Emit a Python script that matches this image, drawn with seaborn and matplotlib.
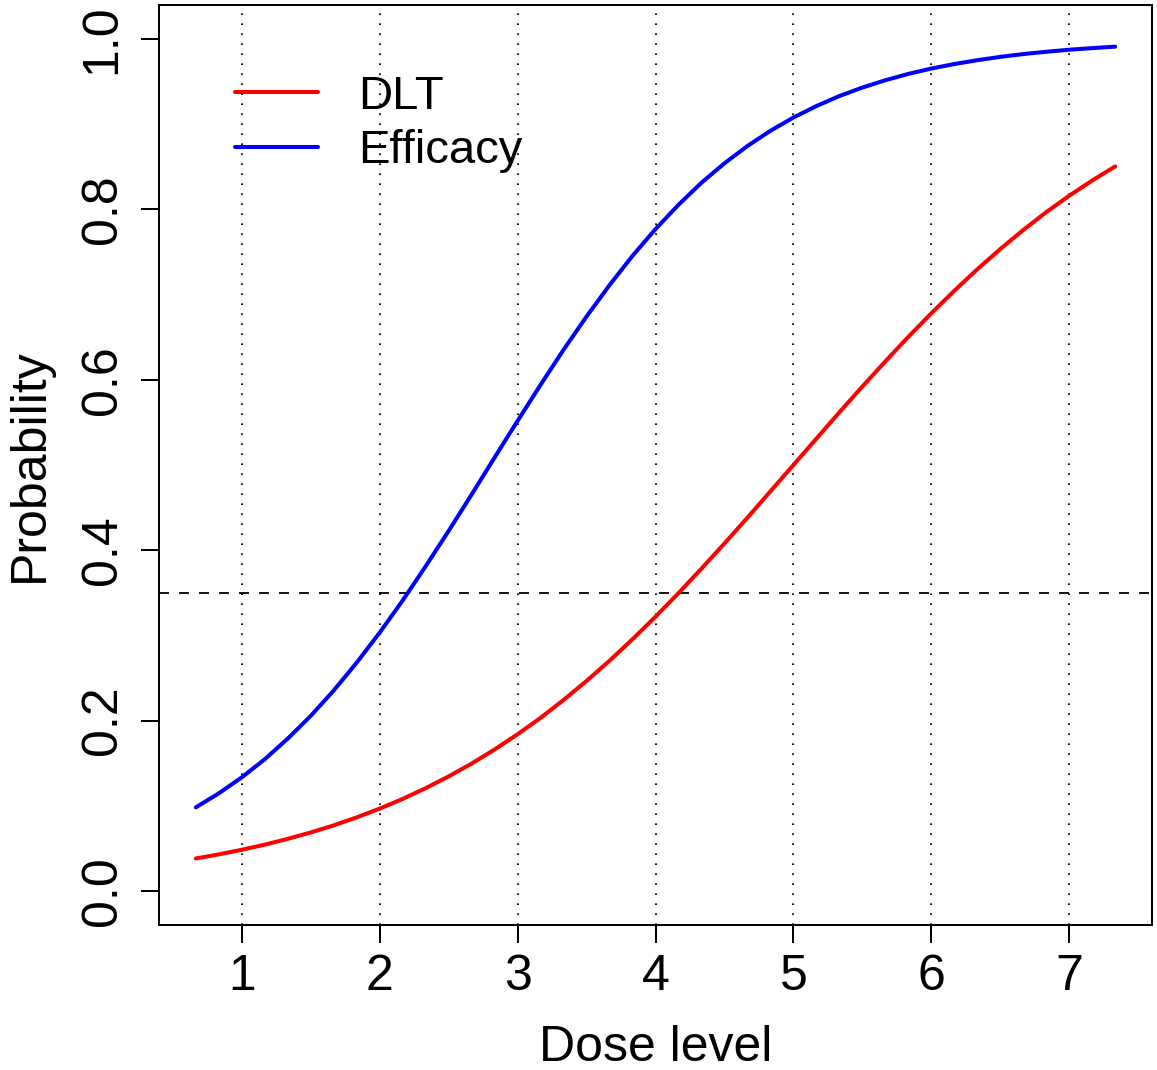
import matplotlib
matplotlib.use("Agg")
import matplotlib.pyplot as plt
import numpy as np
import pandas as pd
import seaborn as sns
from matplotlib.ticker import FormatStrFormatter

# ---- data ----
dose = [0.667, 0.833, 1.0, 1.167, 1.333, 1.5, 1.667, 1.833, 2.0, 2.167,
        2.333, 2.5, 2.667, 2.833, 3.0, 3.167, 3.333, 3.5, 3.667, 3.833,
        4.0, 4.167, 4.333, 4.5, 4.667, 4.833, 5.0, 5.167, 5.333, 5.5,
        5.667, 5.833, 6.0, 6.167, 6.333, 6.5, 6.667, 6.833, 7.0, 7.167, 7.333]
p_dlt = [0.0381, 0.0429, 0.0483, 0.0543, 0.0611, 0.0686, 0.0770, 0.0863, 0.0966, 0.1080,
         0.1206, 0.1344, 0.1495, 0.1660, 0.1839, 0.2032, 0.2241, 0.2465, 0.2703, 0.2954,
         0.3219, 0.3496, 0.3783, 0.4079, 0.4382, 0.4690, 0.5000, 0.5310, 0.5618, 0.5921,
         0.6217, 0.6504, 0.6781, 0.7046, 0.7297, 0.7535, 0.7759, 0.7968, 0.8161, 0.8340, 0.8505]
p_eff = [0.0981, 0.1145, 0.1333, 0.1546, 0.1787, 0.2055, 0.2353, 0.2679, 0.3032, 0.3410,
         0.3810, 0.4226, 0.4654, 0.5087, 0.5518, 0.5942, 0.6352, 0.6743, 0.7112, 0.7455,
         0.7769, 0.8055, 0.8313, 0.8542, 0.8745, 0.8923, 0.9079, 0.9214, 0.9331, 0.9431,
         0.9517, 0.9591, 0.9654, 0.9707, 0.9752, 0.9791, 0.9824, 0.9851, 0.9875, 0.9894, 0.9911]
series_names = ["DLT", "Efficacy"]
series_colors = ["red", "blue"]
x_ticks = [1, 2, 3, 4, 5, 6, 7]
y_ticks = [0.0, 0.2, 0.4, 0.6, 0.8, 1.0]
target = 0.35
x_label = "Dose level"
y_label = "Probability"

# ---- style ----
sns.set_style("white")
plt.rcParams["font.family"] = ["Liberation Sans", "DejaVu Sans"]
plt.rcParams["lines.scale_dashes"] = False
plt.rcParams["text.color"] = "black"
plt.rcParams["axes.labelcolor"] = "black"
plt.rcParams["xtick.color"] = "black"
plt.rcParams["ytick.color"] = "black"

df = pd.DataFrame({
    "dose": dose * 2,
    "prob": p_dlt + p_eff,
    "series": [series_names[0]] * len(dose) + [series_names[1]] * len(dose),
})

W, H = 1157, 1070
fig = plt.figure(figsize=(W / 100, H / 100), dpi=100)
ax = fig.add_axes([159 / W, 1 - 925 / H, 993 / W, 920 / H])

for xv in x_ticks:
    ax.axvline(xv, color="black", lw=1.3, linestyle=(0, (1.2, 6.0)), zorder=1)
ax.axhline(target, color="black", lw=1.3, linestyle=(0, (7.2, 7.2)), zorder=1)

sns.lineplot(data=df, x="dose", y="prob", hue="series",
             palette=dict(zip(series_names, series_colors)),
             linewidth=2.9, estimator=None, ax=ax, zorder=3,
             solid_capstyle="round")

ax.set_xlim(0.4, 7.6)
ax.set_ylim(-0.04, 1.04)
ax.set_xticks(x_ticks)
ax.set_yticks(y_ticks)
ax.yaxis.set_major_formatter(FormatStrFormatter("%.1f"))

ax.tick_params(axis="both", direction="out", length=13, width=1.44,
               color="black", labelsize=36, labelcolor="black")
ax.tick_params(axis="x", pad=8, bottom=True)
ax.tick_params(axis="y", pad=11, left=True, labelrotation=90)
for lab in ax.get_yticklabels():
    lab.set_va("center")

for sp in ax.spines.values():
    sp.set_visible(True)
    sp.set_color("black")
    sp.set_linewidth(1.44)

ax.set_xlabel(x_label, fontsize=36, labelpad=18, color="black")
ax.set_ylabel(y_label, fontsize=36, labelpad=19, color="black")

handles, labels = ax.get_legend_handles_labels()
leg = ax.legend(handles, labels, loc="upper left", bbox_to_anchor=(0.0765, 0.924),
                frameon=False, fontsize=34, handlelength=1.75, handletextpad=0.85,
                labelspacing=0.22, borderpad=0, borderaxespad=0, title=None)
for t in leg.get_texts():
    t.set_color("black")

fig.savefig("out.png", dpi=100)
